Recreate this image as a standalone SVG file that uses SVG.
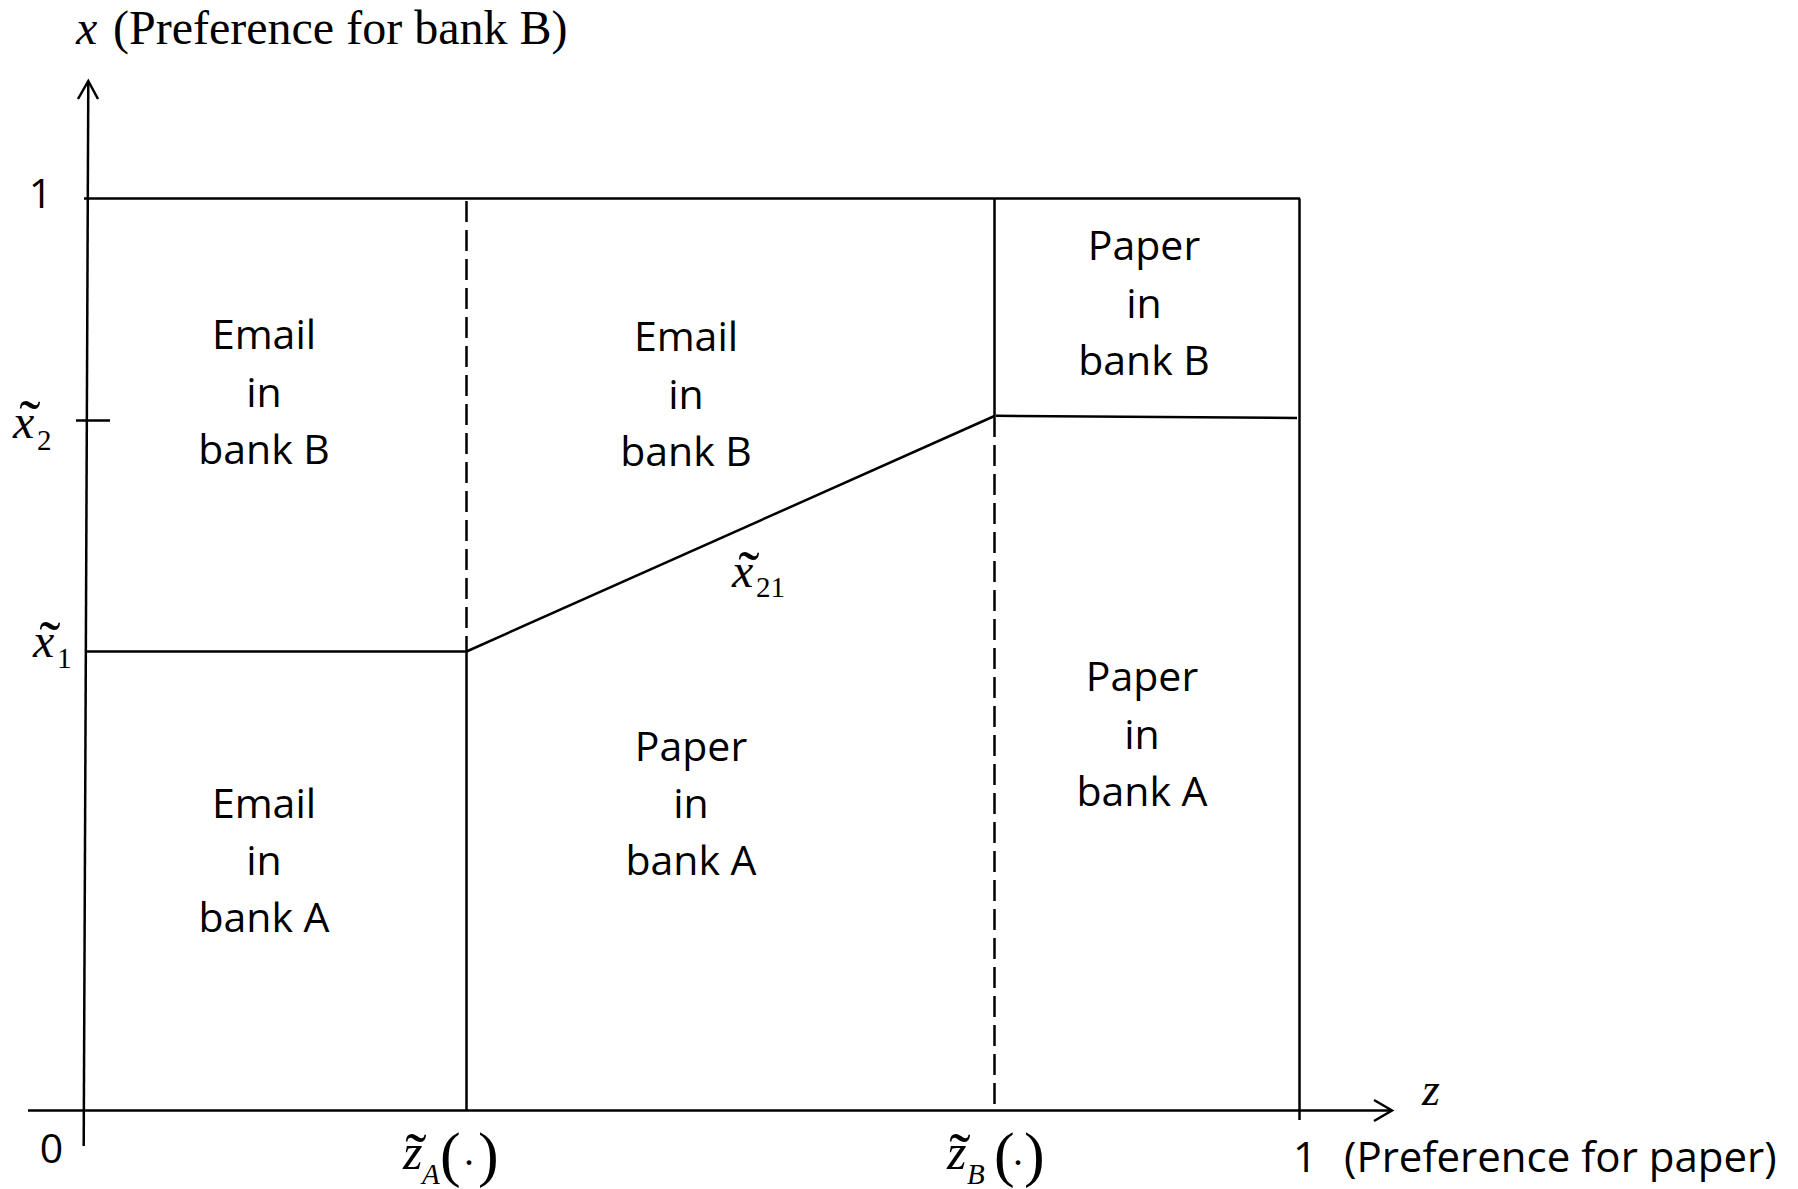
<svg xmlns="http://www.w3.org/2000/svg" width="1798" height="1189" viewBox="0 0 1798 1189">
<style>
.ln{stroke:#000;stroke-width:2.5;fill:none;stroke-linecap:butt}
.ds{stroke:#000;stroke-width:2.5;fill:none;stroke-dasharray:21 8}
.lb{font-family:"Open Sans","Liberation Sans",sans-serif;font-size:41px;fill:#000;text-anchor:middle}
.nm{font-family:"Open Sans","Liberation Sans",sans-serif;font-size:42px;fill:#000}
.mi{font-family:"Liberation Serif","Times New Roman",serif;font-style:italic;fill:#000}
.mr{font-family:"Liberation Serif","Times New Roman",serif;fill:#000}
.tl{font-family:"Liberation Serif","Times New Roman",serif;fill:#000;font-size:64px;text-anchor:middle}
</style>
<rect width="1798" height="1189" fill="#fff"/>
<g id="connectors">
  <line class="ln" x1="88.3" y1="81" x2="83.7" y2="1146"/>
  <polyline class="ln" points="78,99 88.3,81 98,99"/>
  <line class="ln" x1="28" y1="1110.5" x2="1392" y2="1110.5"/>
  <polyline class="ln" points="1374,1100 1392,1110.5 1374,1121"/>
  <line class="ln" x1="84" y1="198.5" x2="1300" y2="198.5"/>
  <line class="ln" x1="1299.5" y1="198.5" x2="1299.5" y2="1120"/>
  <line class="ln" x1="76" y1="420.5" x2="110" y2="420.5"/>
  <line class="ln" x1="85" y1="651.5" x2="466.5" y2="651.5"/>
  <line class="ds" x1="466.5" y1="201" x2="466.5" y2="651"/>
  <line class="ln" x1="466.5" y1="651" x2="466.5" y2="1110"/>
  <line class="ln" x1="466.5" y1="651.5" x2="994.5" y2="416"/>
  <line class="ln" x1="994.5" y1="198.5" x2="994.5" y2="416"/>
  <line class="ds" x1="994.5" y1="416" x2="994.5" y2="1110"/>
  <line class="ln" x1="996" y1="415.8" x2="1297" y2="418"/>
</g>
<g id="axis-labels">
  <text class="mi" x="76" y="44" font-size="48">x</text>
  <text class="mr" x="113" y="44" font-size="48">(Preference for bank B)</text>
  <text class="lb" x="40.5" y="208">1</text>
  <text class="lb" x="51.5" y="1163">0</text>
  <text class="lb" x="1305" y="1172" style="font-size:42px">1</text>
  <text class="nm" x="1344" y="1172">(Preference for paper)</text>
  <text class="mi" x="1422" y="1105" font-size="46">z</text>
</g>
<g id="math-labels">
  <g id="x2-label">
    <text class="mi" x="13" y="438" font-size="48">x</text>
    <text class="tl" x="30" y="444">˜</text>
    <text class="mr" x="37" y="450" font-size="29">2</text>
  </g>
  <g id="x1-label">
    <text class="mi" x="33" y="657" font-size="48">x</text>
    <text class="tl" x="50" y="665">˜</text>
    <text class="mr" x="57" y="668" font-size="29">1</text>
  </g>
  <g id="x21-label">
    <text class="mi" x="732" y="587" font-size="48">x</text>
    <text class="tl" x="749" y="595">˜</text>
    <text class="mr" x="756" y="597" font-size="29">21</text>
  </g>
  <g id="zA-label">
    <text class="mi" x="403" y="1169" font-size="50">z</text>
    <text class="tl" x="416" y="1177">˜</text>
    <text class="mi" x="422" y="1184" font-size="29">A</text>
    <text class="mr" x="440" y="1175" font-size="62">(</text>
    <text class="mr" x="464" y="1165" font-size="40">.</text>
    <text class="mr" x="478" y="1175" font-size="62">)</text>
  </g>
  <g id="zB-label">
    <text class="mi" x="947" y="1169" font-size="50">z</text>
    <text class="tl" x="960" y="1177">˜</text>
    <text class="mi" x="967" y="1184" font-size="29">B</text>
    <text class="mr" x="994" y="1175" font-size="62">(</text>
    <text class="mr" x="1013" y="1165" font-size="40">.</text>
    <text class="mr" x="1024" y="1175" font-size="62">)</text>
  </g>
</g>
<g id="region-email-bankB-left">
  <text class="lb" x="264" y="349">Email</text>
  <text class="lb" x="264" y="407">in</text>
  <text class="lb" x="264" y="464">bank B</text>
</g>
<g id="region-email-bankB-mid">
  <text class="lb" x="686" y="351">Email</text>
  <text class="lb" x="686" y="409">in</text>
  <text class="lb" x="686" y="466">bank B</text>
</g>
<g id="region-paper-bankB">
  <text class="lb" x="1144" y="260">Paper</text>
  <text class="lb" x="1144" y="318">in</text>
  <text class="lb" x="1144" y="375">bank B</text>
</g>
<g id="region-email-bankA">
  <text class="lb" x="264" y="818">Email</text>
  <text class="lb" x="264" y="875">in</text>
  <text class="lb" x="264" y="932">bank A</text>
</g>
<g id="region-paper-bankA-mid">
  <text class="lb" x="691" y="761">Paper</text>
  <text class="lb" x="691" y="818">in</text>
  <text class="lb" x="691" y="875">bank A</text>
</g>
<g id="region-paper-bankA-right">
  <text class="lb" x="1142" y="691">Paper</text>
  <text class="lb" x="1142" y="749">in</text>
  <text class="lb" x="1142" y="806">bank A</text>
</g>
</svg>
